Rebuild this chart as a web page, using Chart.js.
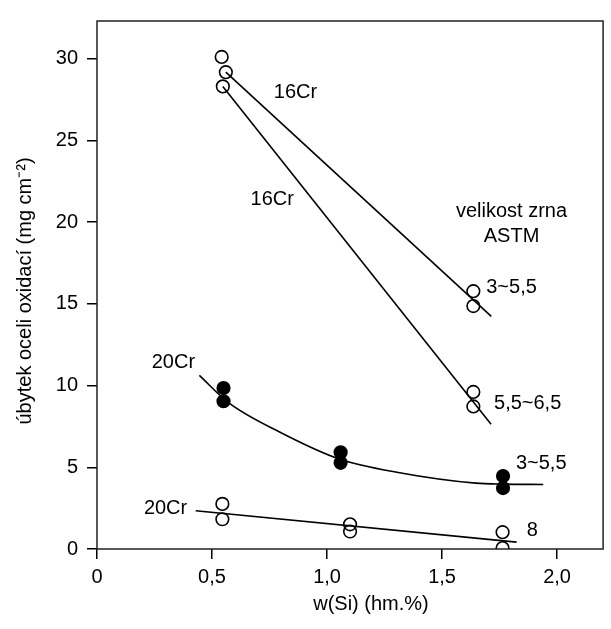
<!DOCTYPE html>
<html>
<head>
<meta charset="utf-8">
<script src="https://cdn.jsdelivr.net/npm/chart.js@4.4.1/dist/chart.umd.min.js"></script>
<style>
  body { margin: 0; background: #fff; }
  #wrap { width: 611px; height: 629px; }
</style>
</head>
<body>
<div id="wrap"><canvas id="chart" width="611" height="629"></canvas></div>
<script>
// axis ticks
const xTicks = [0, 0.5, 1.0, 1.5, 2.0];
const xTickLabels = ['0', '0,5', '1,0', '1,5', '2,0'];
const yTicks = [0, 5, 10, 15, 20, 25, 30];
const yTickLabels = ['0', '5', '10', '15', '20', '25', '30'];

// measured points (w(Si), mass loss)
const cr16CoarseX = [0.542, 0.560, 1.636, 1.636];
const cr16CoarseY = [30.1, 29.17, 15.77, 14.86];
const cr16FineX = [0.547, 1.636, 1.636];
const cr16FineY = [28.3, 9.61, 8.72];
const cr20CoarseX = [0.550, 0.550, 1.059, 1.059, 1.765, 1.765];
const cr20CoarseY = [9.85, 9.04, 5.91, 5.27, 4.46, 3.73];
const cr20FineX = [0.545, 0.545, 1.100, 1.100, 1.763, 1.763];
const cr20FineY = [2.76, 1.82, 1.51, 1.07, 1.03, 0.06];

// fitted lines
const fit16CoarseX = [0.560, 1.714];
const fit16CoarseY = [29.17, 14.23];
const fit16FineX = [0.547, 1.713];
const fit16FineY = [28.3, 7.63];
const fit20CoarseX = [0.445, 0.573, 0.802, 1.053, 1.303, 1.647, 1.766, 1.94];
const fit20CoarseY = [10.62, 8.94, 7.1, 5.51, 4.70, 4.03, 3.97, 3.95];
const fit20FineX = [0.429, 1.824];
const fit20FineY = [2.34, 0.42];

// text labels inside the plot
const noteTexts = ['16Cr', '16Cr', 'velikost zrna', 'ASTM', '3~5,5', '5,5~6,5', '3~5,5', '8', '20Cr', '20Cr'];
const noteX = [0.863, 0.762, 1.802, 1.802, 1.802, 1.872, 1.931, 1.892, 0.332, 0.298];
const noteY = [27.92, 21.36, 20.65, 19.14, 16.01, 8.91, 5.23, 1.14, 11.41, 2.48];

const FONT = "'Liberation Sans', Arial, sans-serif";

function pts(xs, ys) {
    return xs.map((x, i) => ({ x: x, y: ys[i] }));
}

function lineSet(xs, ys, curved) {
    return {
        type: 'line',
        data: pts(xs, ys),
        borderColor: '#000',
        borderWidth: 1.6,
        pointRadius: 0,
        fill: false,
        tension: curved ? 0.4 : 0,
        cubicInterpolationMode: curved ? 'monotone' : 'default'
    };
}

function pointSet(xs, ys, filled) {
    return {
        type: 'scatter',
        data: pts(xs, ys),
        pointStyle: 'circle',
        pointRadius: 6.3,
        pointBorderWidth: 1.6,
        borderColor: '#000',
        backgroundColor: filled ? '#000' : 'rgba(0,0,0,0)',
        showLine: false
    };
}

// frame, axis titles and notes
const decorPlugin = {
    id: 'decor',
    afterDraw(chart) {
        const ctx = chart.ctx;
        const a = chart.chartArea;
        const xs = chart.scales.x;
        const ys = chart.scales.y;
        ctx.save();
        ctx.strokeStyle = '#222';
        ctx.lineWidth = 1.5;
        ctx.strokeRect(a.left, a.top, a.right - a.left, a.bottom - a.top);

        ctx.fillStyle = '#000';
        ctx.font = '20px ' + FONT;
        ctx.textAlign = 'center';
        ctx.textBaseline = 'middle';
        noteTexts.forEach((t, i) => {
            ctx.fillText(t, xs.getPixelForValue(noteX[i]), ys.getPixelForValue(noteY[i]));
        });

        ctx.fillText('w(Si) (hm.%)', 371, 604);

        ctx.translate(25, 291);
        ctx.rotate(-Math.PI / 2);
        ctx.fillText('úbytek oceli oxidací (mg cm⁻²)', 0, 0);
        ctx.restore();
    }
};

new Chart(document.getElementById('chart'), {
    type: 'scatter',
    data: {
        datasets: [
            lineSet(fit16CoarseX, fit16CoarseY, false),
            lineSet(fit16FineX, fit16FineY, false),
            lineSet(fit20CoarseX, fit20CoarseY, true),
            lineSet(fit20FineX, fit20FineY, false),
            pointSet(cr16CoarseX, cr16CoarseY, false),
            pointSet(cr16FineX, cr16FineY, false),
            pointSet(cr20CoarseX, cr20CoarseY, true),
            pointSet(cr20FineX, cr20FineY, false)
        ]
    },
    options: {
        responsive: false,
        animation: false,
        events: [],
        layout: { padding: { left: 0, right: 3, top: 16, bottom: 0 } },
        plugins: {
            legend: { display: false },
            tooltip: { enabled: false }
        },
        scales: {
            x: {
                type: 'linear',
                min: 0,
                max: 2.2,
                border: { display: false },
                grid: { drawOnChartArea: false, drawTicks: true, tickLength: 10, color: '#000', lineWidth: 1.5 },
                afterBuildTicks: (scale) => { scale.ticks = xTicks.map(v => ({ value: v })); },
                afterFit: (scale) => { scale.height = 80; },
                ticks: {
                    color: '#000',
                    font: { family: FONT, size: 20 },
                    padding: 6,
                    maxRotation: 0,
                    callback: (v) => xTickLabels[xTicks.indexOf(v)]
                }
            },
            y: {
                type: 'linear',
                min: 0,
                max: 32.3,
                border: { display: false },
                grid: { drawOnChartArea: false, drawTicks: true, tickLength: 10, color: '#000', lineWidth: 1.5 },
                afterBuildTicks: (scale) => { scale.ticks = yTicks.map(v => ({ value: v })); },
                afterFit: (scale) => { scale.width = 97; },
                ticks: {
                    color: '#000',
                    font: { family: FONT, size: 20 },
                    padding: 9,
                    callback: (v) => yTickLabels[yTicks.indexOf(v)]
                }
            }
        }
    },
    plugins: [decorPlugin]
});
</script>
</body>
</html>
